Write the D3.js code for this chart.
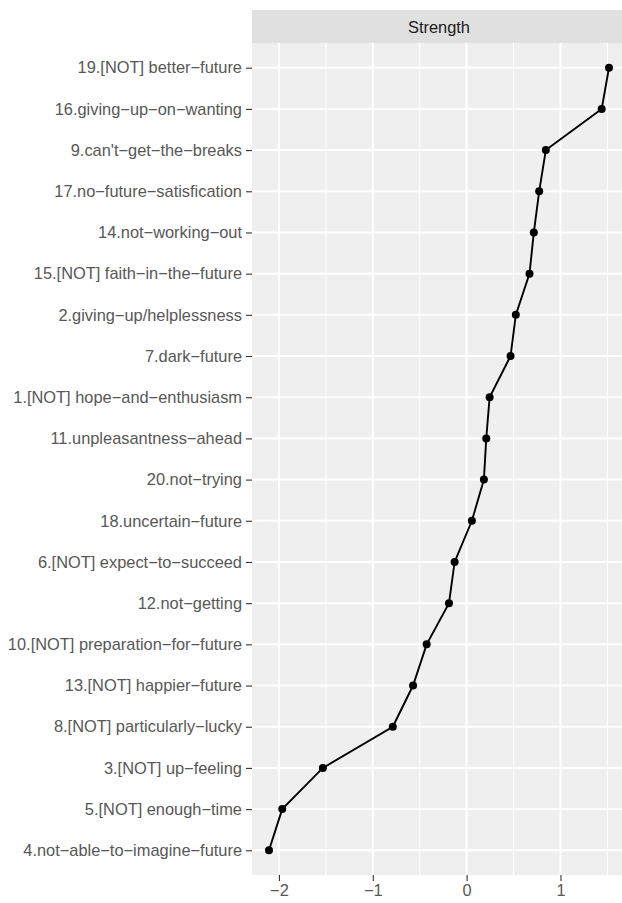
<!DOCTYPE html>
<html>
<head>
<meta charset="utf-8">
<script src="https://cdn.jsdelivr.net/npm/d3@7"></script>
<style>
	body { margin: 0; background: #fff; }
	text { font-family: 'Liberation Sans', Arial, Helvetica, sans-serif; }
</style>
</head>
<body>
<div class="container"></div>
<script>
'use strict';

// Items, top to bottom as they appear on the y axis.
var items = [
	'19.[NOT] better\u2212future',
	'16.giving\u2212up\u2212on\u2212wanting',
	'9.can\'t\u2212get\u2212the\u2212breaks',
	'17.no\u2212future\u2212satisfication',
	'14.not\u2212working\u2212out',
	'15.[NOT] faith\u2212in\u2212the\u2212future',
	'2.giving\u2212up/helplessness',
	'7.dark\u2212future',
	'1.[NOT] hope\u2212and\u2212enthusiasm',
	'11.unpleasantness\u2212ahead',
	'20.not\u2212trying',
	'18.uncertain\u2212future',
	'6.[NOT] expect\u2212to\u2212succeed',
	'12.not\u2212getting',
	'10.[NOT] preparation\u2212for\u2212future',
	'13.[NOT] happier\u2212future',
	'8.[NOT] particularly\u2212lucky',
	'3.[NOT] up\u2212feeling',
	'5.[NOT] enough\u2212time',
	'4.not\u2212able\u2212to\u2212imagine\u2212future'
];

// Strength estimate for each item (same order).
var strength = [
	1.517, 1.439, 0.844, 0.773, 0.716,
	0.670, 0.524, 0.468, 0.245, 0.209,
	0.184, 0.056, -0.128, -0.188, -0.426,
	-0.571, -0.787, -1.532, -1.965, -2.106
];

var facetLabel = 'Strength';
var xMajorTicks = [-2, -1, 0, 1];
var xMinorTicks = [-1.5, -0.5, 0.5, 1.5];

var width = 622;
var height = 903;
var panel = { left: 252, right: 626, top: 43, bottom: 875 };
var stripTop = 10;
var fontSize = 16.4;

var svg = d3.select('.container').append('svg')
	.attr('width', width)
	.attr('height', height);

// ggplot-like 5% expansion on the continuous axis.
var ext = d3.extent(strength);
var pad = (ext[1] - ext[0]) * 0.05;
var x = d3.scaleLinear()
	.domain([ext[0] - pad, ext[1] + pad])
	.range([panel.left, panel.right]);

var y = d3.scalePoint()
	.domain(items)
	.range([panel.top, panel.bottom])
	.padding(0.6);

//Strip.
svg.append('rect')
	.attr('x', panel.left)
	.attr('y', stripTop)
	.attr('width', panel.right - panel.left)
	.attr('height', panel.top - stripTop)
	.attr('fill', '#e0e0e0');
svg.append('text')
	.attr('x', (panel.left + panel.right) / 2)
	.attr('y', (stripTop + panel.top) / 2)
	.attr('text-anchor', 'middle')
	.attr('dominant-baseline', 'central')
	.attr('font-size', fontSize)
	.attr('fill', '#1a1a1a')
	.text(facetLabel);

//Panel background and grid.
svg.append('rect')
	.attr('x', panel.left)
	.attr('y', panel.top)
	.attr('width', panel.right - panel.left)
	.attr('height', panel.bottom - panel.top)
	.attr('fill', '#efefef');

var grid = svg.append('g');
grid.selectAll('.minor').data(xMinorTicks).enter().append('line')
	.attr('x1', function(d) { return x(d); })
	.attr('x2', function(d) { return x(d); })
	.attr('y1', panel.top)
	.attr('y2', panel.bottom)
	.attr('stroke', '#fff')
	.attr('stroke-width', 1);
grid.selectAll('.majorx').data(xMajorTicks).enter().append('line')
	.attr('x1', function(d) { return x(d); })
	.attr('x2', function(d) { return x(d); })
	.attr('y1', panel.top)
	.attr('y2', panel.bottom)
	.attr('stroke', '#fff')
	.attr('stroke-width', 2);
grid.selectAll('.majory').data(items).enter().append('line')
	.attr('x1', panel.left)
	.attr('x2', panel.right)
	.attr('y1', function(d) { return y(d); })
	.attr('y2', function(d) { return y(d); })
	.attr('stroke', '#fff')
	.attr('stroke-width', 2);

//Axes.
var yAxis = svg.append('g')
	.attr('transform', 'translate(' + panel.left + ',0)')
	.call(d3.axisLeft(y).tickSize(6).tickPadding(4));
var xAxis = svg.append('g')
	.attr('transform', 'translate(0,' + panel.bottom + ')')
	.call(d3.axisBottom(x).tickValues(xMajorTicks).tickSize(6).tickPadding(3)
		.tickFormat(function(d) { return d < 0 ? '\u2212' + Math.abs(d) : d; }));

[yAxis, xAxis].forEach(function(a) {
	a.select('.domain').remove();
	a.selectAll('.tick line').attr('stroke', '#333').attr('stroke-width', 1.1);
	a.selectAll('.tick text')
		.attr('fill', '#575757')
		.attr('font-size', fontSize)
		.attr('font-family', '\'Liberation Sans\', Arial, sans-serif');
});

//Data line and points.
var pts = items.map(function(d, i) { return { item: d, val: strength[i] }; });
var line = d3.line()
	.x(function(d) { return x(d.val); })
	.y(function(d) { return y(d.item); });

svg.append('path')
	.datum(pts)
	.attr('d', line)
	.attr('fill', 'none')
	.attr('stroke', '#000')
	.attr('stroke-width', 1.9);

svg.selectAll('.pt').data(pts).enter().append('circle')
	.attr('cx', function(d) { return x(d.val); })
	.attr('cy', function(d) { return y(d.item); })
	.attr('r', 4)
	.attr('fill', '#000');
</script>
</body>
</html>
